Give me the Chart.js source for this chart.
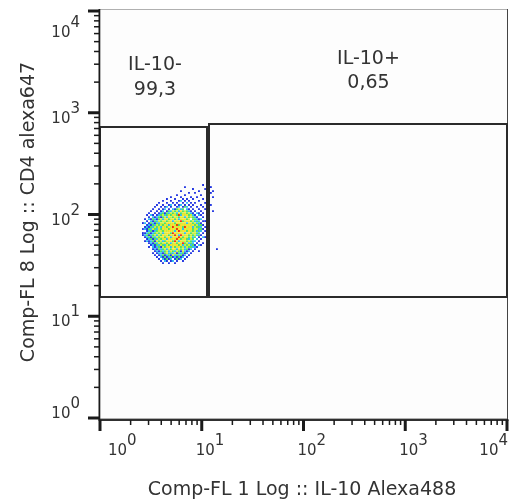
<!DOCTYPE html>
<html>
<head>
<meta charset="utf-8">
<script src="https://cdn.jsdelivr.net/npm/chart.js@4.4.1/dist/chart.umd.min.js"></script>
<style>
  html, body { margin: 0; padding: 0; background: #fff; }
  canvas { display: block; }
</style>
</head>
<body>
<canvas id="dotPlot" width="510" height="504"></canvas>
<script>
// log axes, same decades on x and y
const decades = [1, 10, 100, 1000, 10000];
const decadeExp = ['0', '1', '2', '3', '4'];
const minorSteps = [2, 3, 4, 5, 6, 7, 8, 9];

const xTitle = 'Comp-FL 1 Log :: IL-10 Alexa488';
const yTitle = 'Comp-FL 8 Log :: CD4 alexa647';

// gates as [xMin, xMax, yMin, yMax]
const gateNames = ['IL-10-', 'IL-10+'];
const gatePercents = ['99,3', '0,65'];
const gateBoxes = [[1, 11.3, 15.3, 724], [11.8, 10000, 15.3, 784]];

// events, one row per y value: [y, [x, x, ...]], grouped by density colour
const blueRows = [
  [195, [10.3]],
  [186, [6.84, 12.3]],
  [178, [8.20, 10.8]],
  [170, [6.25, 9.39, 12.9]],
  [163, [7.49, 8.58, 12.3]],
  [155, [5.71, 6.84, 9.83]],
  [148, [4.98, 6.25, 7.84, 8.98, 12.9]],
  [142, [4.55, 5.46, 6.54, 7.16, 8.20, 10.3]],
  [136, [4.16, 4.98, 5.97, 6.84, 7.49, 9.39]],
  [130, [3.80, 4.55, 5.21, 5.71, 6.54, 7.84, 8.58, 10.8]],
  [124, [3.63, 4.16, 4.76, 5.46, 5.97, 6.84, 7.49, 8.20, 9.83, 12.3]],
  [119, [3.47, 3.98, 4.35, 4.98, 5.71, 6.54, 7.84, 8.98, 10.3]],
  [113, [3.32, 3.80, 4.16, 4.76, 5.46, 7.49, 8.20, 9.39, 10.8]],
  [108, [3.17, 3.63, 3.98, 4.55, 7.84, 8.58, 9.83, 12.9]],
  [103, [3.03, 3.47, 3.80, 4.35, 8.20, 9.39, 10.3]],
  [98.8, [2.90, 3.32, 3.63, 8.58, 9.83]],
  [94.4, [3.03, 3.47, 3.98, 8.98, 10.3]],
  [90.2, [2.77, 3.17, 3.63, 9.39]],
  [86.2, [2.90, 3.32, 10.3, 10.8]],
  [82.4, [2.64, 3.03, 3.47, 9.83]],
  [78.8, [2.90, 3.17, 10.3]],
  [75.3, [2.77, 3.03, 10.8]],
  [72.0, [2.64, 2.90, 10.3]],
  [68.8, [2.90, 3.32, 10.8]],
  [65.7, [2.64, 2.77, 3.17, 10.3]],
  [62.8, [2.64, 3.03, 9.83]],
  [60.0, [2.77, 3.17, 9.39, 10.8]],
  [57.4, [2.90, 3.32, 9.83]],
  [54.8, [2.77, 3.03, 3.47, 9.39]],
  [52.4, [3.03, 3.32, 8.98, 10.3]],
  [50.1, [3.17, 3.47, 8.58, 9.83]],
  [47.9, [3.03, 3.47, 3.98, 8.98]],
  [45.7, [3.32, 3.63, 7.49, 8.58, 14.1]],
  [43.7, [3.47, 3.80, 6.25, 7.16, 8.20, 9.39]],
  [41.8, [3.32, 3.63, 4.16, 5.71, 6.84, 7.84]],
  [39.9, [3.47, 3.80, 4.35, 4.98, 6.54, 7.49]],
  [38.2, [3.63, 4.16, 4.55, 5.21, 5.71, 6.25, 7.16]],
  [36.5, [3.80, 4.35, 4.76, 5.46, 5.97, 6.84]],
  [34.9, [3.98, 4.55, 4.98, 5.71, 6.54]],
  [33.3, [4.16, 4.76, 5.46]]
];
const cyanRows = [
  [136, [6.25]],
  [130, [7.16]],
  [124, [4.98, 6.25]],
  [119, [4.55, 5.97, 7.16]],
  [113, [4.35, 5.21, 6.25, 7.16]],
  [108, [4.16, 4.98, 5.97, 7.49]],
  [103, [3.98, 4.76, 5.71, 7.84, 8.98]],
  [98.8, [3.17, 3.80, 4.35, 6.25, 8.20, 9.39]],
  [94.4, [3.32, 3.63, 4.55, 6.84, 8.58]],
  [90.2, [3.03, 3.47, 4.16, 5.97, 8.98, 9.83]],
  [86.2, [3.17, 3.63, 5.21, 8.58, 9.39]],
  [82.4, [2.77, 3.32, 3.80, 7.16, 8.98]],
  [78.8, [3.03, 3.47, 4.76, 9.39]],
  [75.3, [2.90, 3.32, 3.98, 8.20, 9.83]],
  [72.0, [2.77, 3.17, 3.63, 6.54, 9.39]],
  [68.8, [3.03, 3.47, 5.46, 8.98, 9.83]],
  [65.7, [2.90, 3.32, 4.16, 6.84, 9.39]],
  [62.8, [2.77, 3.17, 3.63, 5.97, 8.98]],
  [60.0, [2.90, 3.47, 4.98, 8.20, 10.3]],
  [57.4, [3.03, 3.63, 4.55, 7.49, 8.98]],
  [54.8, [2.90, 3.17, 4.16, 5.97, 8.20, 8.58]],
  [52.4, [3.17, 3.63, 4.98, 7.49, 8.20]],
  [50.1, [3.32, 3.80, 4.35, 6.54, 7.84, 9.39]],
  [47.9, [3.32, 3.63, 4.98, 6.84, 8.20, 8.58]],
  [45.7, [3.47, 3.98, 4.55, 5.71, 6.84, 7.84]],
  [43.7, [3.63, 4.16, 4.76, 5.46, 6.84, 7.49]],
  [41.8, [3.80, 3.98, 4.76, 5.21, 6.25, 7.16]],
  [39.9, [3.98, 4.55, 5.46, 5.97, 6.84]],
  [38.2, [3.98, 4.76, 5.46, 6.54]],
  [36.5, [4.16, 4.98, 6.25]],
  [34.9, [4.35, 5.21]]
];
const greenRows = [
  [119, [6.84]],
  [113, [5.71, 6.54]],
  [108, [4.76, 5.46, 6.54, 7.16]],
  [103, [4.16, 4.55, 5.21, 6.25, 7.16]],
  [98.8, [3.98, 4.55, 4.98, 5.71, 7.49]],
  [94.4, [3.80, 4.16, 5.21, 5.97, 7.49, 8.20]],
  [90.2, [3.32, 3.80, 4.76, 5.46, 7.16, 8.20, 8.58]],
  [86.2, [3.47, 3.98, 4.55, 6.54, 7.84, 8.98]],
  [82.4, [3.17, 3.63, 4.35, 5.46, 8.20, 9.39]],
  [78.8, [3.32, 3.80, 4.16, 5.97, 8.58, 9.83]],
  [75.3, [3.17, 3.63, 4.55, 6.54, 8.98, 9.39]],
  [72.0, [3.03, 3.47, 3.98, 4.76, 8.20, 9.83]],
  [68.8, [3.17, 3.63, 4.16, 7.16, 8.20, 9.39]],
  [65.7, [3.03, 3.47, 3.80, 4.98, 7.84, 8.98]],
  [62.8, [2.90, 3.32, 3.98, 4.76, 7.49, 8.20, 9.39]],
  [60.0, [3.03, 3.32, 3.80, 4.35, 6.54, 7.49, 8.58]],
  [57.4, [3.17, 3.47, 3.98, 6.25, 7.16, 8.20]],
  [54.8, [3.32, 3.80, 4.35, 5.21, 7.16, 7.84]],
  [52.4, [3.47, 3.98, 4.55, 5.71, 6.84, 7.84]],
  [50.1, [3.63, 4.16, 4.76, 5.97, 7.16, 8.20]],
  [47.9, [3.80, 4.35, 5.46, 6.25, 7.49, 7.84]],
  [45.7, [3.80, 4.16, 4.98, 6.25, 7.16]],
  [43.7, [3.98, 4.35, 5.21, 5.97]],
  [41.8, [4.35, 4.98, 5.97, 6.54]],
  [39.9, [4.16, 4.76, 5.71, 6.25]],
  [38.2, [4.35, 4.98, 5.97]],
  [36.5, [4.55, 5.71]]
];
const yellowRows = [
  [113, [5.97]],
  [108, [5.21, 5.71, 6.84]],
  [103, [4.98, 5.46, 6.54, 7.49]],
  [98.8, [4.16, 4.76, 5.46, 6.84, 7.84]],
  [94.4, [4.35, 4.98, 5.71, 6.54, 7.84]],
  [90.2, [3.98, 4.35, 4.98, 6.25, 7.49]],
  [86.2, [3.80, 4.16, 4.76, 5.71, 6.84, 8.20]],
  [82.4, [3.98, 4.16, 4.98, 6.25, 7.49, 8.58]],
  [78.8, [3.63, 3.98, 4.55, 5.46, 6.84, 7.84, 8.98]],
  [75.3, [3.47, 3.80, 4.35, 4.98, 5.71, 7.49, 8.58]],
  [72.0, [3.32, 3.80, 4.35, 5.46, 7.16, 8.58, 8.98]],
  [68.8, [3.80, 3.98, 4.55, 5.21, 6.25, 7.84, 8.58]],
  [65.7, [3.63, 3.98, 4.35, 5.71, 6.54, 8.20, 8.58]],
  [62.8, [3.47, 3.80, 4.35, 5.21, 6.84, 7.84, 8.58]],
  [60.0, [3.63, 3.98, 4.55, 5.71, 7.16, 7.84]],
  [57.4, [3.80, 4.16, 4.98, 5.46, 6.54, 7.84]],
  [54.8, [3.63, 3.98, 4.76, 5.71, 6.54, 7.49]],
  [52.4, [3.80, 4.16, 5.21, 6.25, 7.16]],
  [50.1, [3.98, 4.55, 5.21, 6.84, 7.49]],
  [47.9, [4.16, 4.55, 5.71, 6.54, 7.16]],
  [45.7, [4.35, 4.76, 5.46, 6.54]],
  [43.7, [4.55, 4.98, 5.71, 6.54]],
  [41.8, [4.55, 5.46]],
  [39.9, [5.21]]
];
const orangeRows = [
  [108, [6.25]],
  [103, [5.97, 6.84]],
  [98.8, [5.21, 6.54, 7.16]],
  [94.4, [4.76, 5.46, 6.25, 7.16]],
  [90.2, [4.55, 5.21, 5.71, 6.54, 6.84]],
  [86.2, [4.35, 4.98, 5.46, 5.97, 7.16, 7.49]],
  [82.4, [4.55, 4.76, 5.21, 5.71, 5.97, 6.54, 6.84, 7.84]],
  [78.8, [4.35, 4.98, 5.21, 6.25, 6.54, 7.16, 7.49, 8.20]],
  [75.3, [4.16, 4.76, 5.46, 5.97, 6.25, 7.16, 7.84]],
  [72.0, [4.16, 4.55, 4.98, 5.21, 5.97, 6.25, 6.84, 7.49, 7.84]],
  [68.8, [4.35, 4.76, 4.98, 5.71, 6.54, 6.84, 7.49]],
  [65.7, [4.55, 4.76, 5.46, 5.97, 6.25, 7.16, 7.49]],
  [62.8, [4.16, 4.55, 4.98, 5.71, 6.54, 7.16]],
  [60.0, [4.16, 4.76, 5.21, 5.46, 6.25, 6.84]],
  [57.4, [4.35, 4.76, 5.21, 5.97, 6.84]],
  [54.8, [4.55, 4.98, 6.25, 6.84]],
  [52.4, [4.35, 4.76, 5.46, 5.97]],
  [50.1, [4.98, 5.46, 5.71, 6.25]],
  [47.9, [4.76, 5.21, 5.97]],
  [45.7, [5.21, 5.97]]
];
const redRows = [
  [98.8, [5.97]],
  [86.2, [6.25]],
  [78.8, [5.71]],
  [75.3, [5.21, 6.84]],
  [72.0, [5.71]],
  [68.8, [5.97]],
  [65.7, [5.21]],
  [62.8, [5.46, 6.25]],
  [60.0, [5.97]],
  [57.4, [5.71]],
  [54.8, [5.46]],
  [52.4, [6.54]]
];

function toPoints(rows) {
  const pts = [];
  rows.forEach(([yv, xs]) => xs.forEach(xv => pts.push({ x: xv, y: yv })));
  return pts;
}

function densitySet(rows, colour) {
  return {
    data: toPoints(rows),
    backgroundColor: colour,
    borderWidth: 0,
    pointStyle: 'rect',
    pointRadius: 1.3,
    pointHoverRadius: 1.3
  };
}

const ink = '#333333';
const baseFont = '15px "DejaVu Sans"';
const supFont = '15px "DejaVu Sans"';
const titleFont = '19px "DejaVu Sans"';

// axes, ticks, gates and text in the FlowJo style
const flowPlot = {
  id: 'flowPlot',
  beforeDatasetsDraw(chart) {
    const { ctx, chartArea: a } = chart;
    ctx.save();
    ctx.fillStyle = '#fdfdfd';
    ctx.fillRect(a.left, a.top - 2, a.right - a.left + 1, a.bottom - a.top + 2);
    ctx.restore();
  },
  afterDatasetsDraw(chart, args, opts) {
    const { ctx, chartArea: a, scales: { x, y } } = chart;
    ctx.save();

    // frame
    ctx.strokeStyle = '#b0b0b0';
    ctx.lineWidth = 1;
    ctx.beginPath();
    ctx.moveTo(a.left, a.top - 1.5);
    ctx.lineTo(a.right + 1, a.top - 1.5);
    ctx.moveTo(a.left, a.bottom + 0.5);
    ctx.lineTo(a.right + 1, a.bottom + 0.5);
    ctx.stroke();
    ctx.strokeStyle = '#444';
    ctx.beginPath();
    ctx.moveTo(a.right + 0.5, a.top - 2);
    ctx.lineTo(a.right + 0.5, a.bottom + 2);
    ctx.stroke();

    // gates
    ctx.strokeStyle = '#2b2b2b';
    ctx.lineWidth = 2;
    gateBoxes.forEach(([x0, x1, y0, y1]) => {
      const l = Math.round(x.getPixelForValue(x0));
      const r = Math.round(x.getPixelForValue(x1));
      const t = Math.round(y.getPixelForValue(y1));
      const b = Math.round(y.getPixelForValue(y0));
      ctx.strokeRect(l, t, r - l, b - t);
    });

    // axis lines
    const axisY = a.bottom + 2;
    ctx.fillStyle = '#1a1a1a';
    ctx.fillRect(a.left - 1.5, a.top - 2, 1.8, axisY - a.top + 2);
    ctx.fillRect(a.left - 1.5, axisY - 0.9, a.right - a.left + 3, 1.8);

    // ticks
    decades.forEach((v, i) => {
      const py = y.getPixelForValue(v);
      ctx.fillRect(a.left - 12, py - 1.5, 12, 3);
      const px = x.getPixelForValue(v);
      ctx.fillRect(px - 1.5, axisY, 3, 11);
      if (i < decades.length - 1) {
        minorSteps.forEach(m => {
          const my = y.getPixelForValue(v * m);
          ctx.fillRect(a.left - 6, my - 0.75, 6, 1.5);
          const mx = x.getPixelForValue(v * m);
          ctx.fillRect(mx - 0.75, axisY, 1.5, 5);
        });
      }
    });

    // tick labels
    ctx.fillStyle = ink;
    ctx.textBaseline = 'alphabetic';
    decades.forEach((v, i) => {
      ctx.font = baseFont;
      const bw = ctx.measureText('10').width;
      ctx.font = supFont;
      const sw = ctx.measureText(decadeExp[i]).width;

      // y axis
      const py = y.getPixelForValue(v);
      const base = Math.min(Math.max(py + 10, a.top + 26), a.bottom);
      ctx.textAlign = 'left';
      ctx.font = baseFont;
      ctx.fillText('10', 80 - sw - bw, base);
      ctx.font = supFont;
      ctx.fillText(decadeExp[i], 80 - sw, base - 10);

      // x axis
      const px = x.getPixelForValue(v);
      const start = Math.min(Math.max(px - 6, a.left + 8), a.right + 1 - bw - sw);
      ctx.font = baseFont;
      ctx.fillText('10', start, 455);
      ctx.font = supFont;
      ctx.fillText(decadeExp[i], start + bw, 445);
    });

    // axis titles
    ctx.font = titleFont;
    ctx.textAlign = 'center';
    ctx.fillText(xTitle, 302, 495);
    ctx.save();
    ctx.translate(34, 212);
    ctx.rotate(-Math.PI / 2);
    ctx.fillText(yTitle, 0, 0);
    ctx.restore();

    // gate names and percentages
    ctx.textBaseline = 'middle';
    opts.labelAt.forEach(([lx, ny, py2], i) => {
      const cx = x.getPixelForValue(lx);
      ctx.fillText(gateNames[i], cx, y.getPixelForValue(ny));
      ctx.fillText(gatePercents[i], cx, y.getPixelForValue(py2));
    });

    ctx.restore();
  }
};

const ctx = document.getElementById('dotPlot').getContext('2d');
new Chart(ctx, {
  type: 'scatter',
  data: {
    datasets: [
      densitySet(blueRows, '#1a2ee0'),
      densitySet(cyanRows, '#20b8f0'),
      densitySet(greenRows, '#44e05a'),
      densitySet(yellowRows, '#c8ee30'),
      densitySet(orangeRows, '#f5e020'),
      densitySet(redRows, '#f02a00')
    ]
  },
  options: {
    responsive: false,
    animation: false,
    events: [],
    layout: { padding: { left: 100, right: 3, top: 11, bottom: 86 } },
    plugins: {
      legend: { display: false },
      tooltip: { enabled: false },
      flowPlot: { labelAt: [[3.47, 2946, 1674], [435, 3375, 1938]] }
    },
    scales: {
      x: { type: 'logarithmic', min: 1, max: 10000, display: false },
      y: { type: 'logarithmic', min: 1, max: 10000, display: false }
    }
  },
  plugins: [flowPlot]
});
</script>
</body>
</html>
